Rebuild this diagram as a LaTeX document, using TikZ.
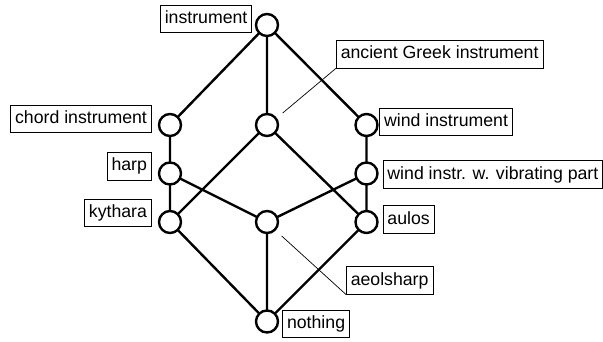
\documentclass[tikz,border=0pt]{standalone}
\usepackage{fontspec}
\setmainfont{Liberation Sans}
\begin{document}
\begin{tikzpicture}[x=1pt,y=-1pt,
  concept/.style={circle,draw,line width=2.4pt,fill=white,minimum size=22pt,inner sep=0pt},
  lbl/.style={draw,line width=0.7pt,fill=white,font=\fontsize{17.7}{20}\selectfont,inner xsep=4.4pt,inner ysep=0pt,minimum height=27.5pt,text height=13pt,text depth=3.5pt},
  edge/.style={line width=2.4pt},
  leader/.style={line width=0.7pt}]
\useasboundingbox (0,0) rectangle (603,341);
% edges
\coordinate (pi) at (267,25);
\coordinate (pc) at (170,125);
\coordinate (pa) at (267,125);
\coordinate (pw) at (366.5,125);
\coordinate (ph) at (170,173.5);
\coordinate (pv) at (366.5,173.5);
\coordinate (pk) at (170,222);
\coordinate (pe) at (267,222);
\coordinate (pu) at (366.5,222);
\coordinate (pn) at (267,321.5);
\draw[edge] (pi) -- (pc) (pi) -- (pa) (pi) -- (pw)
  (pc) -- (ph) (ph) -- (pk) (ph) -- (pe)
  (pa) -- (pk) (pa) -- (pu)
  (pw) -- (pv) (pv) -- (pe) (pv) -- (pu)
  (pk) -- (pn) (pe) -- (pn) (pu) -- (pn);
% labels
\node[lbl,anchor=west] (Li) at (160,19) {instrument};
\node[lbl,anchor=west] (La) at (336,54.2) {ancient Greek instrument};
\node[lbl,anchor=east] (Lc) at (151.7,118.7) {chord instrument};
\node[lbl,anchor=east] (Lh) at (151.7,166.2) {harp};
\node[lbl,anchor=east] (Lk) at (151.7,213) {kythara};
\node[lbl,anchor=west] (Lw) at (379.3,121.7) {wind instrument};
\node[lbl,anchor=west] (Lv) at (382.7,174.4) {wind instr. w. vibrating part};
\node[lbl,anchor=west] (Lu) at (382.7,219.4) {aulos};
\node[lbl,anchor=west] (Le) at (346,280.4) {aeolsharp};
\node[lbl,anchor=west] (Ln) at (282.3,323.7) {nothing};
% leader lines
\coordinate (ta) at (282.7,113);
\coordinate (te) at (281.7,236);
\draw[leader] (La.south west) -- (ta);
\draw[leader] (Le.south west) -- (te);
% concept circles
\node[concept] (i) at (pi) {};
\node[concept] (c) at (pc) {};
\node[concept] (a) at (pa) {};
\node[concept] (w) at (pw) {};
\node[concept] (h) at (ph) {};
\node[concept] (v) at (pv) {};
\node[concept] (k) at (pk) {};
\node[concept] (e) at (pe) {};
\node[concept] (u) at (pu) {};
\node[concept] (n) at (pn) {};
\end{tikzpicture}
\end{document}
